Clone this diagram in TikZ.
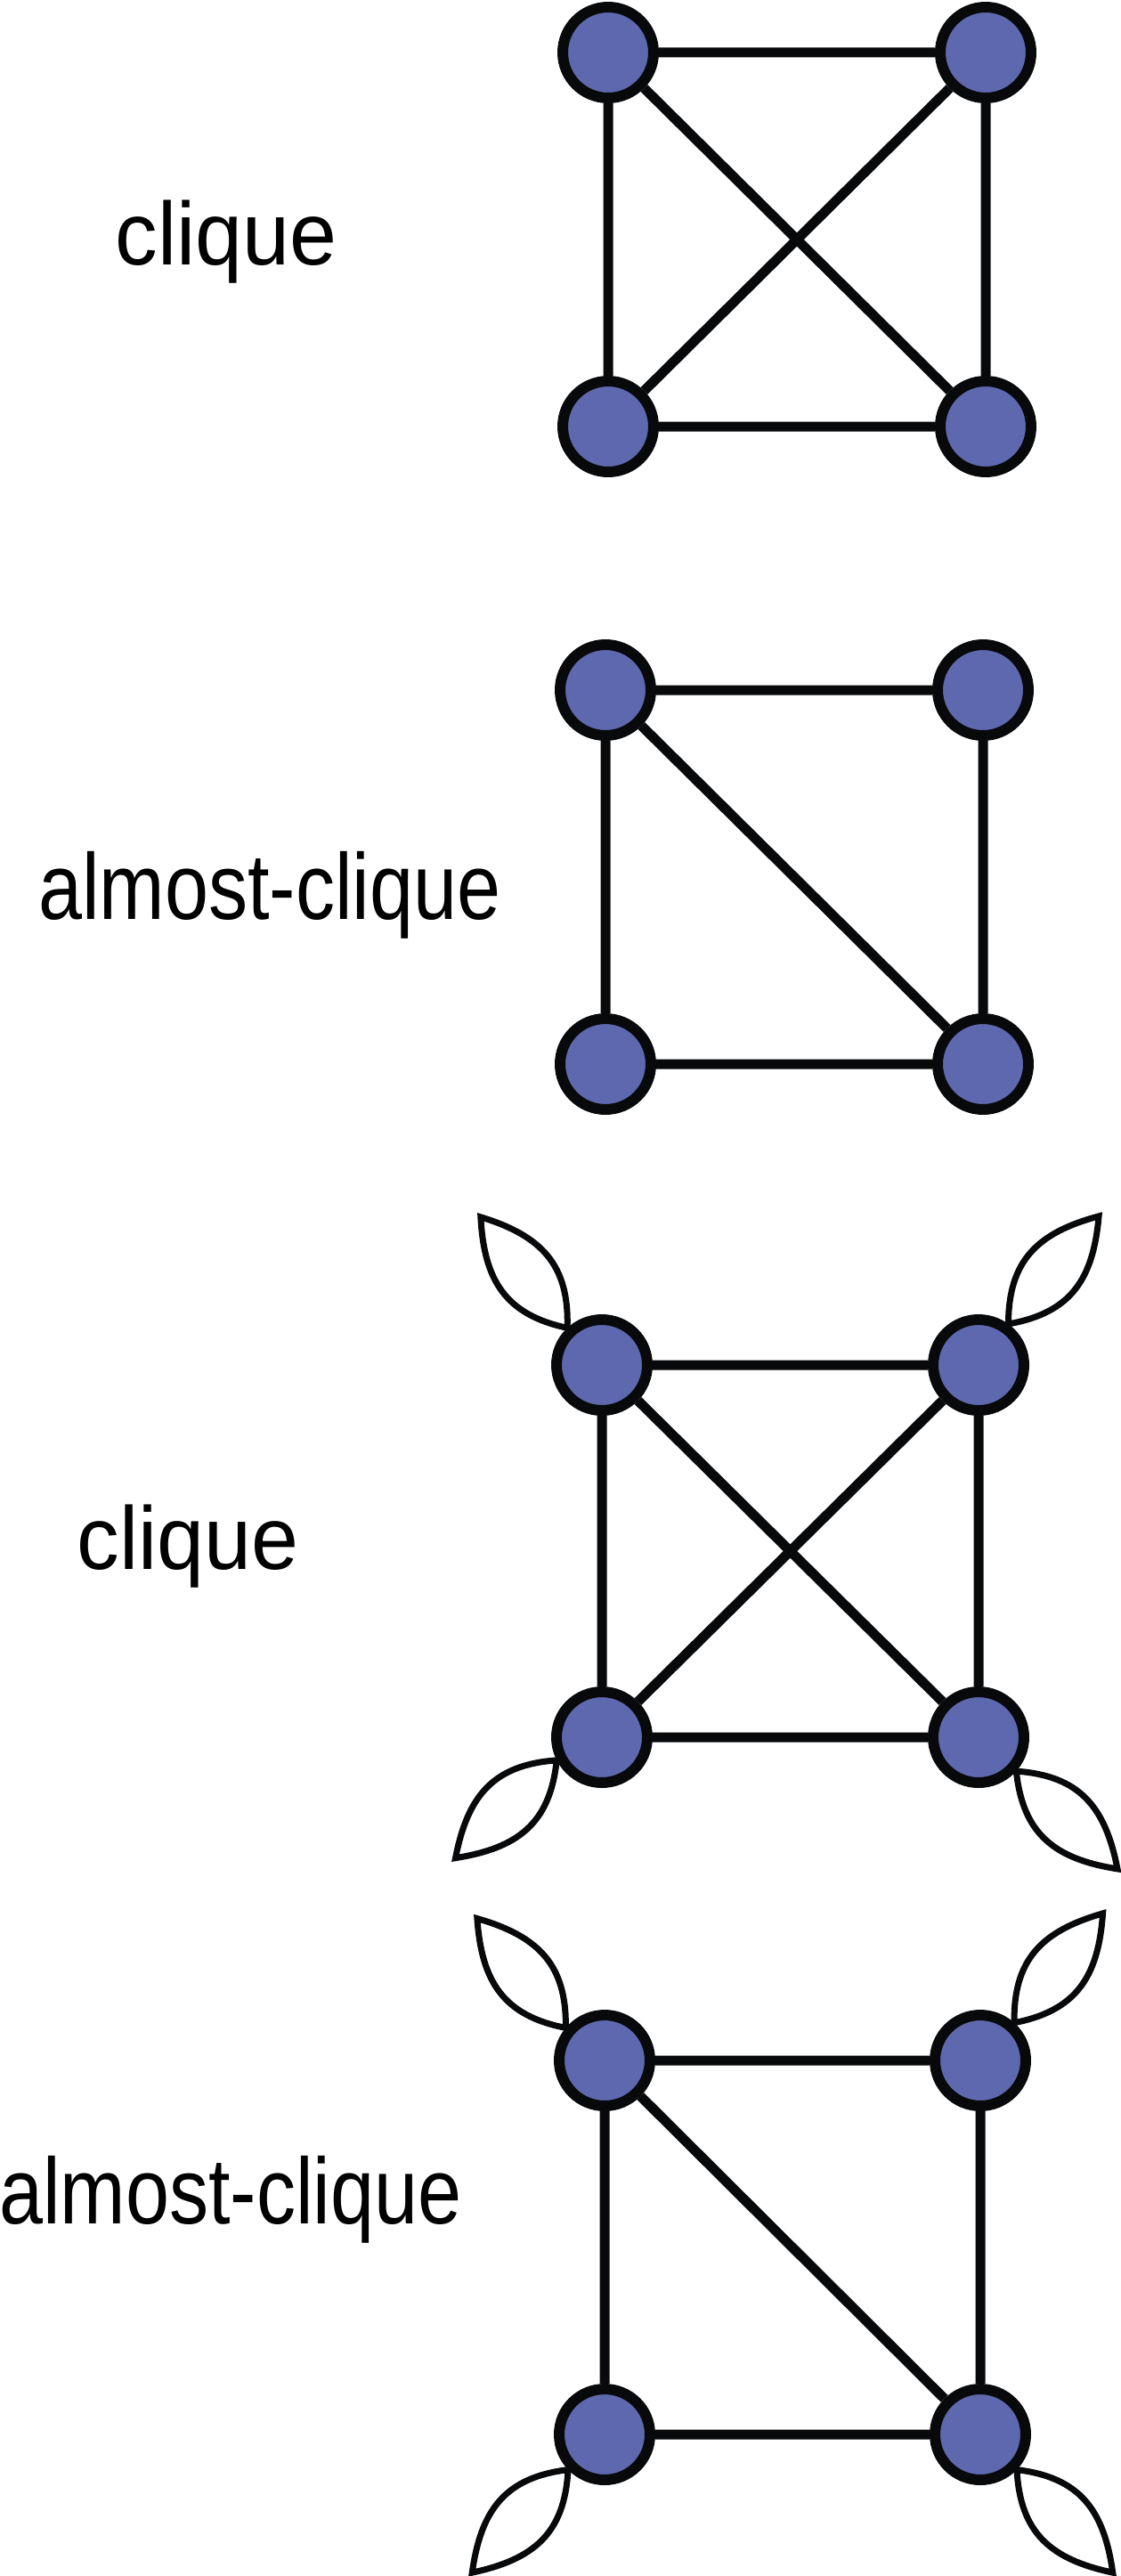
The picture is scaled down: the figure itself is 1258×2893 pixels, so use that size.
\documentclass[tikz,border=0pt]{standalone}
\usepackage{fontspec}
\usepackage{graphicx}
\setmainfont{Liberation Sans}
\usepackage{tikz}
\usetikzlibrary{calc}
\pgfdeclarelayer{background}
\pgfsetlayers{background,main}
\definecolor{vertexblue}{HTML}{5E68AE}
\definecolor{inkblack}{HTML}{08090B}
% self loop drawn as a leaf: node, anchor angle, axis angle, tip name
\newcommand{\leafloop}[4]{
  \pgfmathsetmacro\outa{#3+40}
  \pgfmathsetmacro\ina{#3+145}
  \pgfmathsetmacro\outb{#3+215}
  \pgfmathsetmacro\inb{#3-40}
  \coordinate (#4) at ($(#1.#2)+(#3:158)$);
  \draw[leaf] (#1.#2) to[out=\outa,in=\ina,looseness=1.15] (#4)
    to[out=\outb,in=\inb,looseness=1.15] (#1.#2) -- cycle;
}

\begin{document}
\begin{tikzpicture}[x=0.02cm,y=0.02cm]
\tikzstyle{vertex}=[circle,draw=inkblack,fill=vertexblue,line width=0.24cm,minimum size=2.04cm,inner sep=0pt]
\tikzstyle{link}=[draw=inkblack,line width=0.22cm]
\tikzstyle{leaf}=[draw=inkblack,line width=0.14cm]
\tikzstyle{lbl}=[anchor=base,inner sep=0pt,font=\fontsize{57}{60}\selectfont]
\useasboundingbox (0,0) rectangle (1258,-2893);

% clique
\node[vertex] (tl1) at (683,-59) {};
\node[vertex] (tr1) at (1107,-59) {};
\node[vertex] (bl1) at (683,-479) {};
\node[vertex] (br1) at (1107,-479) {};
\node[lbl] (clique1) at (254,-297) {\scalebox{0.95}[1]{clique}};

% almost-clique
\node[vertex] (tl2) at (680,-775) {};
\node[vertex] (tr2) at (1104,-775) {};
\node[vertex] (bl2) at (680,-1195) {};
\node[vertex] (br2) at (1104,-1195) {};
\node[lbl] (almost2) at (303,-1032) {\scalebox{0.88}[1.05]{almost-clique}};

% clique with loops
\node[vertex] (tl3) at (676,-1533) {};
\node[vertex] (tr3) at (1099,-1533) {};
\node[vertex] (bl3) at (676,-1951) {};
\node[vertex] (br3) at (1099,-1951) {};
\node[lbl] (clique3) at (211,-1762) {\scalebox{0.95}[1]{clique}};

% almost-clique with loops
\node[vertex] (tl4) at (679,-2314) {};
\node[vertex] (tr4) at (1101,-2314) {};
\node[vertex] (bl4) at (679,-2734) {};
\node[vertex] (br4) at (1101,-2734) {};
\node[lbl] (almost4) at (259,-2497) {\scalebox{0.88}[1.05]{almost-clique}};

\begin{pgfonlayer}{background}
\draw[link] (tl1) -- (tr1) -- (br1) -- (bl1) -- (tl1) -- (br1) (tr1) -- (bl1);
\draw[link] (tl2) -- (tr2) -- (br2) -- (bl2) -- (tl2) -- (br2);
\draw[link] (tl3) -- (tr3) -- (br3) -- (bl3) -- (tl3) -- (br3) (tr3) -- (bl3);
\draw[link] (tl4) -- (tr4) -- (br4) -- (bl4) -- (tl4) -- (br4);
\leafloop{tl3}{133}{128}{tip3a}
\leafloop{tr3}{54}{50}{tip3b}
\leafloop{bl3}{207}{224}{tip3c}
\leafloop{br3}{318}{316}{tip3d}
\leafloop{tl4}{140}{129}{tip4a}
\leafloop{tr4}{48}{51}{tip4b}
\leafloop{bl4}{224}{227}{tip4c}
\leafloop{br4}{316}{313}{tip4d}
\end{pgfonlayer}
\end{tikzpicture}
\end{document}
